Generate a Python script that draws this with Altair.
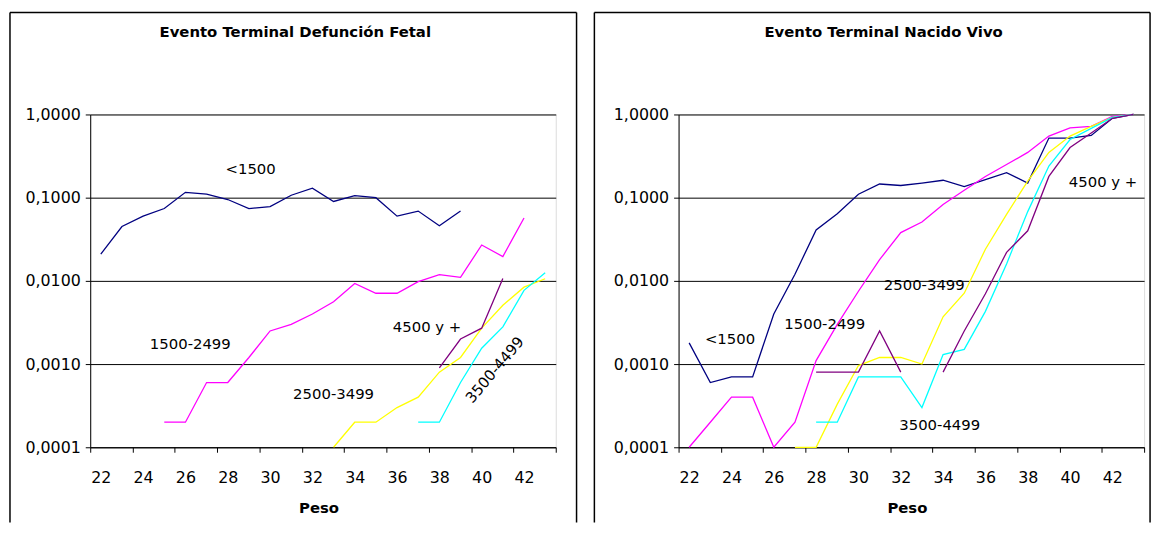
import altair as alt
import pandas as pd

# ---------------- data ----------------
weeks = list(range(22, 44))
series_names = ["<1500", "1500-2499", "2500-3499", "3500-4499", "4500 y +"]
series_colors = ["#000080", "#FF00FF", "#FFFF00", "#00FFFF", "#800080"]
N = None

# Evento Terminal Defunción Fetal
fetal_lt1500 = [0.021, 0.045, 0.060, 0.074, 0.116, 0.110, 0.095, 0.074, 0.078, 0.107, 0.130,
                0.090, 0.106, 0.100, 0.060, 0.069, 0.046, 0.069, N, N, N, N]
fetal_1500 = [N, N, N, 0.0002, 0.0002, 0.0006, 0.0006, 0.0012, 0.0025, 0.0030, 0.0040,
              0.0056, 0.0093, 0.0071, 0.0071, 0.0098, 0.0119, 0.0110, 0.027, 0.0196, 0.057, N]
fetal_2500 = [N, N, N, N, N, N, N, N, N, N, N,
              0.0001, 0.0002, 0.0002, 0.0003, 0.0004, 0.0008, 0.0012, 0.0027, 0.0051, 0.0084, 0.0106]
fetal_3500 = [N, N, N, N, N, N, N, N, N, N, N,
              N, N, N, N, 0.0002, 0.0002, 0.0006, 0.00155, 0.0028, 0.0077, 0.0125]
fetal_4500 = [N, N, N, N, N, N, N, N, N, N, N,
              N, N, N, N, N, 0.0009, 0.0020, 0.0027, 0.0107, N, N]

# Evento Terminal Nacido Vivo
vivo_lt1500 = [0.0018, 0.0006, 0.0007, 0.0007, 0.004, 0.012, 0.041, 0.064, 0.11, 0.146, 0.14,
               0.15, 0.162, 0.136, 0.165, 0.20, 0.15, 0.52, 0.52, 0.56, 0.90, 1.0]
vivo_1500 = [0.0001, 0.0002, 0.0004, 0.0004, 0.0001, 0.0002, 0.0011, 0.003, 0.0075, 0.018, 0.038,
             0.051, 0.083, 0.123, 0.18, 0.25, 0.35, 0.55, 0.69, 0.72, 0.95, 1.0]
vivo_2500 = [N, N, N, N, N, 0.0001, 0.0001, 0.00033, 0.00096, 0.0012, 0.0012,
             0.0010, 0.0037, 0.0071, 0.024, 0.063, 0.158, 0.35, 0.55, 0.72, 0.92, 1.0]
vivo_3500 = [N, N, N, N, N, N, 0.0002, 0.0002, 0.0007, 0.0007, 0.0007,
             0.0003, 0.0013, 0.0015, 0.0043, 0.016, 0.068, 0.24, 0.50, 0.68, 0.92, 1.0]
vivo_4500 = [N, N, N, N, N, N, 0.0008, 0.0008, 0.0008, 0.0025, 0.0008,
             N, 0.0008, 0.0025, 0.007, 0.022, 0.040, 0.18, 0.40, 0.60, 0.90, 1.0]

# series labels: (text, peso, value)
fetal_label_text = ["<1500", "1500-2499", "2500-3499", "4500 y +"]
fetal_label_x = [29.08, 26.23, 33.0, 37.42]
fetal_label_y = [0.221, 0.00173, 0.000434, 0.00275]
fetal_rot_text = ["3500-4499"]
fetal_rot_x = [40.62]
fetal_rot_y = [0.000855]

vivo_label_text = ["<1500", "1500-2499", "2500-3499", "4500 y +", "3500-4499"]
vivo_label_x = [23.93, 28.41, 33.11, 41.56, 33.84]
vivo_label_y = [0.00199, 0.00299, 0.00896, 0.155, 0.000183]

y_ticks = [0.0001, 0.001, 0.01, 0.1, 1.0]
x_bounds = [21.5 + i for i in range(23)]

FONT = "DejaVu Sans"
W, H = 470, 336


def build_long(series_list):
    rows = []
    for name, vals in zip(series_names, series_list):
        seg = 0
        for w, v in zip(weeks, vals):
            if v is None:
                seg += 1
                continue
            rows.append({"serie": name, "grp": f"{name}_{seg}", "peso": w, "valor": v})
    return pd.DataFrame(rows)


def panel(series_list, title, lab_t, lab_x, lab_y, rot=None, fl=-81, fr=491, ft=-103):
    df = build_long(series_list)
    xs = alt.Scale(domain=[21.5, 43.5], nice=False, zero=False)
    ys = alt.Scale(type="log", domain=[0.0001, 1], nice=False)
    xaxis = alt.Axis(values=x_bounds, title=None, grid=False,
                     labelExpr="((datum.value + 0.5) % 2 == 0 && datum.value < 43) ? format(datum.value + 0.5, 'd') : ''",
                     labelOffset=W / 22 / 2, labelFlush=False, labelOverlap=False, labelBound=False,
                     tickSize=5, labelPadding=18, domainColor="black", tickColor="black",
                     labelFont=FONT, labelFontSize=16, labelColor="black")
    yaxis = alt.Axis(values=y_ticks, title=None, grid=True, gridColor="black", gridOpacity=1,
                     labelExpr="replace(format(datum.value, '.4f'), '.', ',')",
                     tickSize=5, labelPadding=5, domainColor="black", tickColor="black",
                     labelFont=FONT, labelFontSize=16, labelColor="black", labelOverlap=False,
                     labelFlush=False)
    lines = alt.Chart(df).mark_line(strokeWidth=1.3).encode(
        x=alt.X("peso:Q", scale=xs, axis=xaxis),
        y=alt.Y("valor:Q", scale=ys, axis=yaxis),
        color=alt.Color("serie:N", scale=alt.Scale(domain=series_names, range=series_colors), legend=None),
        detail="grp:N",
        order=alt.Order("peso:Q"),
    )
    ldf = pd.DataFrame({"t": lab_t, "x": lab_x, "y": lab_y})
    labels = alt.Chart(ldf).mark_text(font=FONT, fontSize=15, color="black",
                                      align="center", baseline="middle").encode(
        x=alt.X("x:Q", scale=xs), y=alt.Y("y:Q", scale=ys), text="t:N")
    layers = [lines, labels]
    if rot is not None:
        rdf = pd.DataFrame({"t": rot[0], "x": rot[1], "y": rot[2]})
        layers.append(alt.Chart(rdf).mark_text(font=FONT, fontSize=15, color="black", angle=310,
                                               align="center", baseline="middle").encode(
            x=alt.X("x:Q", scale=xs), y=alt.Y("y:Q", scale=ys), text="t:N"))
    tdf = pd.DataFrame({"t": [title]})
    layers.append(alt.Chart(tdf).mark_text(font=FONT, fontSize=15, fontWeight="bold", color="black",
                                           align="center", baseline="middle").encode(
        x=alt.value(207), y=alt.value(-83), text="t:N"))
    pdf = pd.DataFrame({"t": ["Peso"]})
    layers.append(alt.Chart(pdf).mark_text(font=FONT, fontSize=15, fontWeight="bold", color="black",
                                           align="center", baseline="middle").encode(
        x=alt.value(W / 2 - 4), y=alt.value(H + 61), text="t:N"))
    # panel frame
    fdf = pd.DataFrame({"k": [0]})
    layers.append(alt.Chart(fdf).mark_rule(color="black", strokeWidth=1.5).encode(
        x=alt.value(fl), x2=alt.value(fl), y=alt.value(ft), y2=alt.value(412)))
    layers.append(alt.Chart(fdf).mark_rule(color="black", strokeWidth=1.5).encode(
        x=alt.value(fr), x2=alt.value(fr), y=alt.value(ft), y2=alt.value(412)))
    layers.append(alt.Chart(fdf).mark_rule(color="black", strokeWidth=1.5).encode(
        x=alt.value(fl), x2=alt.value(fr), y=alt.value(ft), y2=alt.value(ft)))
    return alt.layer(*layers).properties(width=W, height=H)


left = panel([fetal_lt1500, fetal_1500, fetal_2500, fetal_3500, fetal_4500],
             "Evento Terminal Defunción Fetal", fetal_label_text, fetal_label_x, fetal_label_y,
             rot=(fetal_rot_text, fetal_rot_x, fetal_rot_y), fl=-81, fr=491)
right = panel([vivo_lt1500, vivo_1500, vivo_2500, vivo_3500, vivo_4500],
              "Evento Terminal Nacido Vivo", vivo_label_text, vivo_label_x, vivo_label_y,
              fl=-85, fr=476)

chart = alt.hconcat(left, right, spacing=14).properties(padding=0).configure_view(
    stroke="#808080", strokeWidth=1).configure(background="white")

chart.save("out.html", embed_options={"renderer": "svg", "actions": False})
